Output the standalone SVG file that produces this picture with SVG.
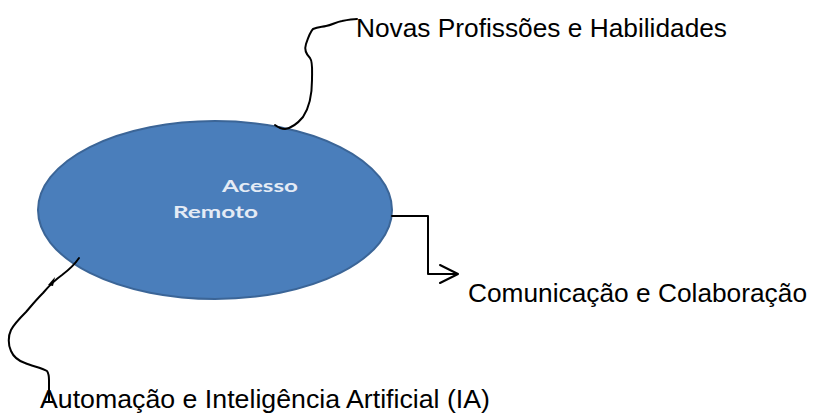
<svg xmlns="http://www.w3.org/2000/svg" width="813" height="414" viewBox="0 0 813 414">
<style>
.lbl{font-family:"Liberation Sans",Arial,sans-serif;font-size:26px;fill:#000}
.in{font-family:Lato,"Open Sans",sans-serif;font-weight:bold;font-size:17px;fill:#e4ebf5}
.ln{fill:none;stroke:#000;stroke-width:2;stroke-linejoin:round;stroke-linecap:round}
</style>
<rect width="813" height="414" fill="#fff"/>
<g id="node-acesso">
<ellipse cx="215" cy="210" rx="177" ry="89" fill="#4a7ebb" stroke="#3b6597" stroke-width="2"/>
<text class="in" x="222" y="192" textLength="76" lengthAdjust="spacingAndGlyphs">Acesso</text>
<text class="in" x="173" y="218" textLength="85" lengthAdjust="spacingAndGlyphs">Remoto</text>
</g>
<g id="node-novas"><text class="lbl" x="356" y="37" textLength="371" lengthAdjust="spacingAndGlyphs">Novas Profissões e Habilidades</text></g>
<g id="node-comunicacao"><text class="lbl" x="468" y="302" textLength="339" lengthAdjust="spacingAndGlyphs">Comunicação e Colaboração</text></g>
<g id="node-automacao"><text class="lbl" x="40" y="408" textLength="450" lengthAdjust="spacingAndGlyphs">Automação e Inteligência Artificial (IA)</text></g>
<g id="connectors">
<path class="ln" d="M275,125 C279,128 281,129 285,129 C292,128 298,123 303,117 C309,108 312,95 312,80 C312,70 313,62 310,58 C306,54 304,50 306,44 C308,38 310,32 313,29 C318,27 322,27 326,26 C332,25 336,22 342,21 C347,20 352,19 357,19"/>
<path class="ln" d="M392,216 H428 V274 H457"/>
<path class="ln" d="M440,265 L458,274 L440,283"/>
<path class="ln" d="M79,258 C75,264 70,269 62,275 C55,280 48,287 43,293 C36,300 32,305 26,312 C20,318 14,324 11,330 C8,336 8,345 11,351 C14,358 19,361 25,363 C32,366 42,368 47,371 C49,374 49,377 49,380 V402"/>
<path d="M48,285 L55,277 L53,286 Z" fill="#000"/>
</g>
</svg>
